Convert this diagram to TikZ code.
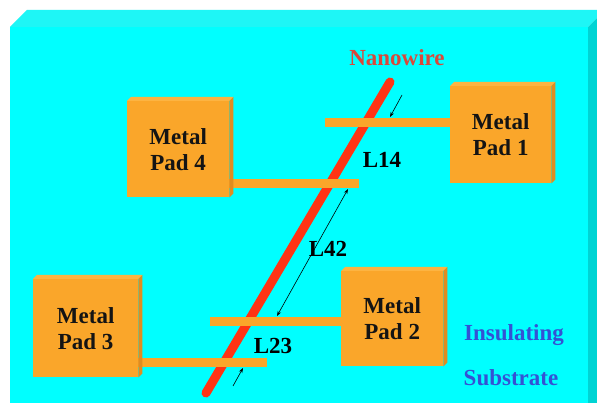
\documentclass[tikz,border=0pt]{standalone}
\usepackage{fontspec}
\setmainfont{Liberation Serif}
\usetikzlibrary{arrows.meta}

\definecolor{subfront}{RGB}{0,255,255}
\definecolor{subtop}{RGB}{30,246,246}
\definecolor{subside}{RGB}{0,212,212}
\definecolor{padfront}{RGB}{250,166,42}
\definecolor{padtop}{RGB}{252,180,66}
\definecolor{padside}{RGB}{224,140,32}
\definecolor{wirered}{RGB}{255,52,20}
\definecolor{wiretext}{RGB}{218,72,58}
\definecolor{subtext}{RGB}{52,82,212}

\tikzset{
  bigtext/.style={font=\bfseries\fontsize{23}{26}\selectfont},
  padface/.style={fill=padfront, draw=none, inner sep=0pt, anchor=north west,
                  align=center, bigtext, text=black!92},
  lead/.style={fill=padfront, draw=none, inner sep=0pt, anchor=north west,
               minimum height=9pt},
  dimline/.style={line width=0.6pt, black},
  tip/.style={-{Stealth[length=5pt,width=3.6pt]}},
  twotips/.style={{Stealth[length=5pt,width=3.6pt]}-{Stealth[length=5pt,width=3.6pt]}},
}

% front face of a pad as a node, plus its bevelled top and shaded side
\newcommand\metalpad[6]{%
  \node[padface, minimum width=#4pt, minimum height=#5pt] (#1) at (#2,#3) {#6};
  \fill[padtop] (#1.north west) -- ([shift={(4,-4)}]#1.north west)
     -- ([shift={(4,-4)}]#1.north east) -- (#1.north east) -- cycle;
  \fill[padside] (#1.north east) -- ([shift={(4,-4)}]#1.north east)
     -- ([shift={(4,-4)}]#1.south east) -- (#1.south east) -- cycle;
}

\begin{document}
\begin{tikzpicture}[x=1pt,y=-1pt]
  \useasboundingbox (0,0) rectangle (597,403);
  \fill[white] (0,0) rectangle (597,403);
  \clip (0,0) rectangle (597,403);

  % insulating substrate block
  \fill[subfront] (10,27) rectangle (588,403);
  \fill[subtop] (10,27) -- (27,10) -- (605,10) -- (588,27) -- cycle;
  \fill[subside] (588,27) -- (605,10) -- (605,403) -- (588,403) -- cycle;

  % nanowire
  \coordinate (wtop) at (390,82);
  \coordinate (wbot) at (206,393);
  \draw[wirered, line width=9pt, line cap=round] (wtop) -- (wbot);

  % leads from the pads across the wire
  \node[lead, minimum width=125pt] (e1) at (325,118) {};
  \node[lead, minimum width=130pt] (e4) at (229,179) {};
  \node[lead, minimum width=131pt] (e2) at (210,317) {};
  \node[lead, minimum width=129pt] (e3) at (138,358) {};

  % metal pads
  \metalpad{p4}{127}{101}{102}{96}{Metal\\Pad 4}
  \metalpad{p1}{450}{86}{101}{97}{Metal\\Pad 1}
  \metalpad{p2}{341}{271}{102}{95}{Metal\\Pad 2}
  \metalpad{p3}{33}{279}{105}{98}{Metal\\Pad 3}

  % spacing marks along the wire
  \coordinate (a1s) at (402,95);
  \coordinate (a1e) at (390,117);
  \draw[dimline, tip] (a1s) -- (a1e);
  \coordinate (a2s) at (348,189);
  \coordinate (a2e) at (277,316);
  \draw[dimline, twotips] (a2s) -- (a2e);
  \coordinate (a3s) at (233,386);
  \coordinate (a3e) at (243,368);
  \draw[dimline, tip] (a3s) -- (a3e);

  % labels
  \node[bigtext, text=wiretext] (lwire) at (397,58) {Nanowire};
  \node[bigtext] (l14) at (382,160) {L14};
  \node[bigtext] (l42) at (328,249) {L42};
  \node[bigtext] (l23) at (273,346) {L23};
  \node[bigtext, text=subtext] (lins) at (514,335) {Insulating};
  \node[bigtext, text=subtext] (lsub) at (511,378) {Substrate};
\end{tikzpicture}
\end{document}
